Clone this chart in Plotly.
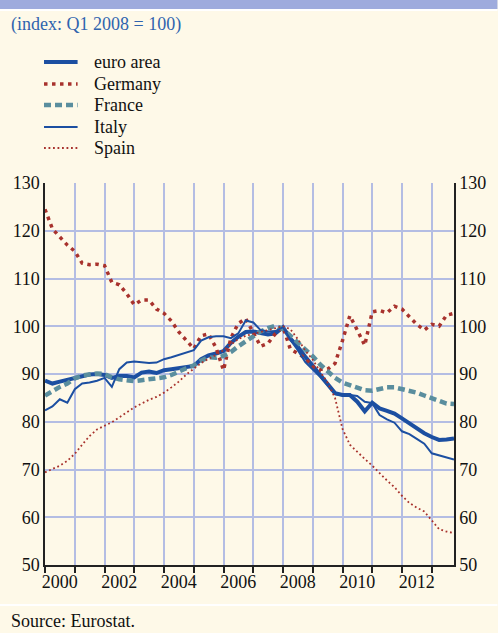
import pandas as pd
import plotly.graph_objects as go

# Quarterly periods 2000Q1 .. 2013Q4
quarters = pd.period_range("2000Q1", "2013Q4", freq="Q")
dates = [p.start_time.strftime("%Y-%m-%d") for p in quarters]

euro_area = [88.6, 88.0, 88.4, 88.8, 89.2, 89.6, 89.9, 90.0, 89.8, 89.2,
             89.6, 89.6, 89.3, 90.3, 90.5, 90.2, 90.8, 91.0, 91.2, 91.5,
             91.7, 93.1, 93.9, 94.3, 94.8, 96.5, 97.8, 98.8, 98.9, 98.6,
             98.3, 98.5, 99.8, 97.4, 95.7, 93.6, 91.6, 89.9, 87.8, 86.0,
             85.6, 85.6, 84.2, 82.2, 84.0, 82.8, 82.3, 81.7, 80.7, 79.6,
             78.6, 77.6, 76.8, 76.2, 76.3, 76.5]
germany = [124.5, 120.4, 118.7, 117.0, 115.7, 113.2, 112.9, 113.0, 112.7, 109.2,
           108.7, 106.8, 104.5, 105.5, 105.5, 103.6, 102.7, 101.1, 98.8, 97.0,
           95.3, 98.0, 98.4, 95.5, 90.8, 97.5, 100.6, 101.6, 98.5, 95.8,
           96.4, 98.5, 99.8, 95.2, 94.3, 93.3, 91.5, 91.0, 91.0, 92.2,
           97.0, 102.2, 99.2, 96.0, 103.0, 103.3, 102.8, 104.2, 103.6, 102.0,
           100.4, 99.2, 100.4, 100.0, 102.3, 102.7]
france = [85.5, 86.5, 87.3, 88.0, 89.1, 89.7, 90.0, 90.1, 90.0, 89.3,
          88.9, 88.6, 88.5, 88.7, 88.9, 89.0, 89.3, 89.8, 90.6, 91.2,
          91.8, 92.8, 93.5, 93.4, 93.8, 94.6, 95.8, 96.9, 98.0, 98.9,
          99.6, 100.1, 99.4, 98.0, 96.6, 95.2, 93.7, 92.0, 90.6, 89.2,
          88.2, 87.6, 87.2, 86.6, 86.5, 86.9, 87.2, 87.2, 86.9, 86.5,
          86.1, 85.5, 84.9, 84.2, 83.8, 83.7]
italy = [82.4, 83.2, 84.7, 84.0, 86.8, 88.0, 88.2, 88.6, 89.2, 87.3,
         91.0, 92.4, 92.6, 92.4, 92.3, 92.4, 93.1, 93.5, 94.0, 94.4,
         95.0, 97.0, 97.7, 97.9, 97.9, 97.5, 98.5, 101.2, 100.8, 99.2,
         98.9, 99.0, 99.8, 97.2, 95.0, 92.5, 91.0, 89.4, 87.6, 85.8,
         85.5, 85.6, 85.4, 84.2, 83.9, 81.4, 80.5, 79.8, 78.0, 77.4,
         76.4, 75.4, 73.4, 73.0, 72.6, 72.1]
spain = [69.4, 70.1, 70.8, 71.8, 73.3, 75.2, 77.0, 78.4, 79.2, 79.9,
         80.9, 82.0, 83.0, 83.8, 84.6, 85.2, 86.1, 87.2, 88.4, 89.9,
         91.2, 92.3, 93.2, 94.0, 95.0, 96.2, 97.3, 98.0, 98.4, 98.7,
         99.2, 99.6, 100.0, 99.4, 97.3, 94.9, 93.0, 90.5, 88.2, 85.0,
         78.5, 75.2, 73.6, 72.2, 70.8, 69.2, 67.7, 66.3, 64.5, 63.0,
         62.0, 61.2, 59.4, 57.5, 57.0, 56.7]

series_names = ["euro area", "Germany", "France", "Italy", "Spain"]
year_labels = ["2000", "2002", "2004", "2006", "2008", "2010", "2012"]
y_ticks = [50, 60, 70, 80, 90, 100, 110, 120, 130]

BLUE = "#1C4FA1"
RED = "#A8322D"
TEAL = "#5A8E9E"
GRID = "#B4BDE3"
BG = "#FEF9E8"
INK = "#111111"
FONT = "Liberation Serif, Times New Roman, serif"
FS = 18

styles = [
    dict(color=BLUE, width=4),
    dict(color=RED, width=3.5, dash="3.5px,4.5px"),
    dict(color=TEAL, width=4.5, dash="7px,4px"),
    dict(color=BLUE, width=2),
    dict(color=RED, width=1.8, dash="1.8px,2.7px"),
]
values = [euro_area, germany, france, italy, spain]

fig = go.Figure()
for name, vals, st in zip(series_names, values, styles):
    fig.add_trace(go.Scatter(x=dates, y=vals, name=name, mode="lines",
                             line=st, showlegend=False))
# invisible trace to carry the right-hand axis
fig.add_trace(go.Scatter(x=[dates[0]], y=[euro_area[0]], yaxis="y2", mode="lines",
                         showlegend=False, hoverinfo="skip",
                         line=dict(color="rgba(0,0,0,0)")))

tickvals_x = [f"{y}-07-01" for y in year_labels]

PLOT_L, PLOT_R, PLOT_T, PLOT_B = 45, 459, 183, 565
W, H = 498, 633


def px_x(px):
    return (px - PLOT_L) / (PLOT_R - PLOT_L)


def px_y(py):
    return (PLOT_B - py) / (PLOT_B - PLOT_T)


fig.update_layout(
    width=W, height=H,
    margin=dict(l=PLOT_L, r=W - PLOT_R, t=PLOT_T, b=H - PLOT_B),
    paper_bgcolor=BG, plot_bgcolor=BG,
    font=dict(family=FONT, size=FS, color=INK),
    showlegend=False,
    xaxis=dict(type="date", range=["2000-01-01", "2013-10-01"],
               tickmode="array", tickvals=tickvals_x, ticktext=year_labels,
               ticks="", showgrid=False, showline=True, linecolor="#222222", linewidth=1.5,
               tickfont=dict(family=FONT, size=FS, color=INK),
               minor=dict(dtick="M12", tick0="2000-01-01", ticks="outside", ticklen=6,
                          tickcolor="#222222", tickwidth=1.5,
                          showgrid=True, gridcolor=GRID, gridwidth=1.5),
               zeroline=False),
    yaxis=dict(range=[50, 130], tickmode="array", tickvals=y_ticks,
               showgrid=True, gridcolor=GRID, gridwidth=1.5,
               showline=True, linecolor="#222222", linewidth=1.5, ticks="",
               tickfont=dict(family=FONT, size=FS, color=INK), zeroline=False),
    yaxis2=dict(range=[50, 130], tickmode="array", tickvals=y_ticks, overlaying="y",
                side="right", showgrid=False, showline=True, linecolor="#222222",
                linewidth=1.5, ticks="",
                tickfont=dict(family=FONT, size=FS, color=INK), zeroline=False),
)

# Legend (keys drawn with the same line styles as the series)
legend_rows = [62, 84, 105, 127, 148]
for name, st, row in zip(series_names, styles, legend_rows):
    fig.add_shape(type="line", xref="paper", yref="paper",
                  x0=px_x(44), x1=px_x(78), y0=px_y(row), y1=px_y(row), line=st)
    fig.add_annotation(text=name, xref="paper", yref="paper",
                       x=px_x(93), y=px_y(row), xanchor="left", yanchor="middle",
                       showarrow=False, font=dict(family=FONT, size=FS, color=INK))

# Header band and separator lines
fig.add_shape(type="rect", xref="paper", yref="paper", x0=px_x(-5), x1=px_x(W + 5),
              y0=px_y(9), y1=px_y(-5), fillcolor="#9EABDD", line=dict(width=0))
fig.add_shape(type="line", xref="paper", yref="paper", x0=px_x(-5), x1=px_x(W + 5),
              y0=px_y(10), y1=px_y(10), line=dict(color="#FFFFFF", width=2))
fig.add_shape(type="line", xref="paper", yref="paper", x0=px_x(-5), x1=px_x(W + 5),
              y0=px_y(605), y1=px_y(605), line=dict(color="#FFFFFF", width=2))

fig.add_annotation(text="(index: Q1 2008 = 100)", xref="paper", yref="paper",
                   x=px_x(9), y=px_y(25), xanchor="left", yanchor="middle", showarrow=False,
                   font=dict(family=FONT, size=FS, color="#2F63AE"))
fig.add_annotation(text="Source: Eurostat.", xref="paper", yref="paper",
                   x=px_x(9), y=px_y(621), xanchor="left", yanchor="middle", showarrow=False,
                   font=dict(family=FONT, size=FS, color=INK))

fig.write_html("out.html", config={"displayModeBar": False},
               post_script="document.body.style.margin='0';document.body.style.padding='0';")
